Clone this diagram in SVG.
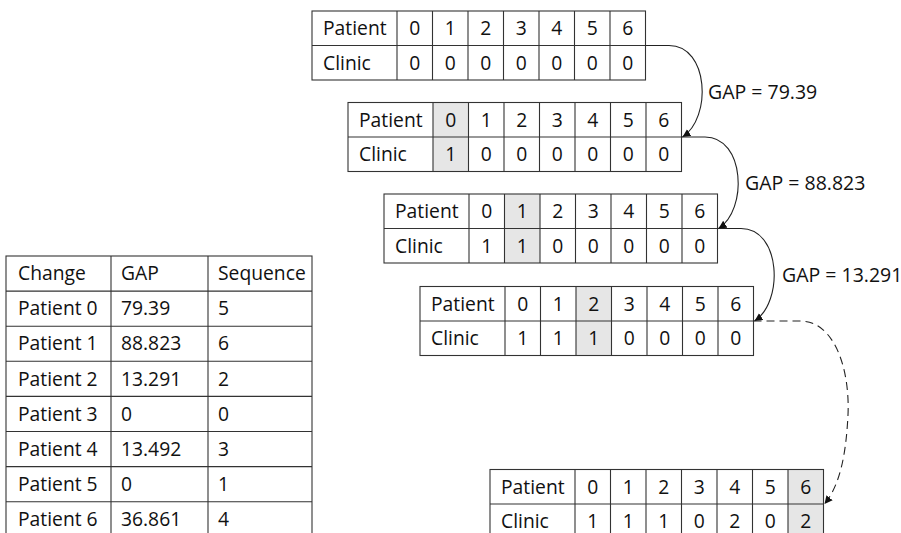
<svg xmlns="http://www.w3.org/2000/svg" xmlns:xlink="http://www.w3.org/1999/xlink" width="901" height="533" viewBox="0 0 901 533">
  <style>
    text { font-family: "Open Sans", "Liberation Sans", sans-serif; fill: #111; }
    .cell { font-size: 19.3px; }
    .num { font-size: 19.3px; text-anchor: middle; }
    .lbl { font-size: 19.5px; }
    .grid { fill: none; stroke: #333; stroke-width: 1.1; }
    .hl { fill: #e6e6e6; }
    .conn { fill: none; stroke: #222; stroke-width: 1.1; marker-end: url(#arrow); }
    .dash { stroke-dasharray: 8 5; }
  </style>
  <defs>
    <marker id="arrow" markerUnits="userSpaceOnUse" markerWidth="10" markerHeight="10" refX="8" refY="4" orient="auto">
      <path d="M0,0 L8,4 L0,8 z" fill="#111"/>
    </marker>
    <!-- 2-row state grid: label column 85, seven cells of 35.5, rows of 34.5 -->
    <g id="stateGrid">
      <rect class="grid" x="0" y="0" width="333.5" height="69"/>
      <path class="grid" d="M0,34.5 H333.5 M85,0 V69 M120.5,0 V69 M156,0 V69 M191.5,0 V69 M227,0 V69 M262.5,0 V69 M298,0 V69"/>
    </g>
    <g id="headRow">
      <text class="cell" x="11" y="24.2">Patient</text>
      <text class="cell" x="11" y="58.7">Clinic</text>
      <text class="num" x="102.75" y="24.2">0</text>
      <text class="num" x="138.25" y="24.2">1</text>
      <text class="num" x="173.75" y="24.2">2</text>
      <text class="num" x="209.25" y="24.2">3</text>
      <text class="num" x="244.75" y="24.2">4</text>
      <text class="num" x="280.25" y="24.2">5</text>
      <text class="num" x="315.75" y="24.2">6</text>
    </g>
  </defs>

  <!-- state 0: no changes -->
  <g id="state0" transform="translate(312,11)">
    <use xlink:href="#stateGrid"/>
    <use xlink:href="#headRow"/>
    <text class="num" x="102.75" y="58.7">0</text>
    <text class="num" x="138.25" y="58.7">0</text>
    <text class="num" x="173.75" y="58.7">0</text>
    <text class="num" x="209.25" y="58.7">0</text>
    <text class="num" x="244.75" y="58.7">0</text>
    <text class="num" x="280.25" y="58.7">0</text>
    <text class="num" x="315.75" y="58.7">0</text>
  </g>

  <!-- state 1: patient 0 changed -->
  <g id="state1" transform="translate(348,102.5)">
    <rect class="hl" x="85" y="0" width="35.5" height="69"/>
    <use xlink:href="#stateGrid"/>
    <use xlink:href="#headRow"/>
    <text class="num" x="102.75" y="58.7">1</text>
    <text class="num" x="138.25" y="58.7">0</text>
    <text class="num" x="173.75" y="58.7">0</text>
    <text class="num" x="209.25" y="58.7">0</text>
    <text class="num" x="244.75" y="58.7">0</text>
    <text class="num" x="280.25" y="58.7">0</text>
    <text class="num" x="315.75" y="58.7">0</text>
  </g>

  <!-- state 2: patient 1 changed -->
  <g id="state2" transform="translate(384,194)">
    <rect class="hl" x="120.5" y="0" width="35.5" height="69"/>
    <use xlink:href="#stateGrid"/>
    <use xlink:href="#headRow"/>
    <text class="num" x="102.75" y="58.7">1</text>
    <text class="num" x="138.25" y="58.7">1</text>
    <text class="num" x="173.75" y="58.7">0</text>
    <text class="num" x="209.25" y="58.7">0</text>
    <text class="num" x="244.75" y="58.7">0</text>
    <text class="num" x="280.25" y="58.7">0</text>
    <text class="num" x="315.75" y="58.7">0</text>
  </g>

  <!-- state 3: patient 2 changed -->
  <g id="state3" transform="translate(420,286.5)">
    <rect class="hl" x="156" y="0" width="35.5" height="69"/>
    <use xlink:href="#stateGrid"/>
    <use xlink:href="#headRow"/>
    <text class="num" x="102.75" y="58.7">1</text>
    <text class="num" x="138.25" y="58.7">1</text>
    <text class="num" x="173.75" y="58.7">1</text>
    <text class="num" x="209.25" y="58.7">0</text>
    <text class="num" x="244.75" y="58.7">0</text>
    <text class="num" x="280.25" y="58.7">0</text>
    <text class="num" x="315.75" y="58.7">0</text>
  </g>

  <!-- final state: patient 6 changed -->
  <g id="state6" transform="translate(490,469.5)">
    <rect class="hl" x="298" y="0" width="35.5" height="69"/>
    <use xlink:href="#stateGrid"/>
    <use xlink:href="#headRow"/>
    <text class="num" x="102.75" y="58.7">1</text>
    <text class="num" x="138.25" y="58.7">1</text>
    <text class="num" x="173.75" y="58.7">1</text>
    <text class="num" x="209.25" y="58.7">0</text>
    <text class="num" x="244.75" y="58.7">2</text>
    <text class="num" x="280.25" y="58.7">0</text>
    <text class="num" x="315.75" y="58.7">2</text>
  </g>

  <!-- transitions between states -->
  <g id="connectors">
    <path class="conn" d="M645.5,45.5 L669,45.5 C709,45.5 712,118 682.5,137"/>
    <path class="conn" d="M681.5,137 L705,137 C745,137 748,210 718.5,228.5"/>
    <path class="conn" d="M717.5,228.5 L741,228.5 C781,228.5 784,302 754.5,321"/>
    <path class="conn dash" d="M753.5,321 L800,321 C835,321 850,370 848,415 C846,455 840,485 824.5,504"/>
    <text class="lbl" x="708" y="99">GAP = 79.39</text>
    <text class="lbl" x="745" y="190">GAP = 88.823</text>
    <text class="lbl" x="782" y="282">GAP = 13.291</text>
  </g>

  <!-- summary table of changes -->
  <g id="summary">
    <rect class="grid" x="6" y="256" width="306" height="281"/>
    <path class="grid" d="M111,256 V537 M208,256 V537 M6,291.1 H312 M6,326.2 H312 M6,361.3 H312 M6,396.4 H312 M6,431.5 H312 M6,466.6 H312 M6,501.7 H312"/>
    <text class="cell" x="18" y="280.2">Change</text>
    <text class="cell" x="121" y="280.2">GAP</text>
    <text class="cell" x="218" y="280.2">Sequence</text>
    <text class="cell" x="18" y="315.3">Patient 0</text>
    <text class="cell" x="121" y="315.3">79.39</text>
    <text class="cell" x="218" y="315.3">5</text>
    <text class="cell" x="18" y="350.4">Patient 1</text>
    <text class="cell" x="121" y="350.4">88.823</text>
    <text class="cell" x="218" y="350.4">6</text>
    <text class="cell" x="18" y="385.5">Patient 2</text>
    <text class="cell" x="121" y="385.5">13.291</text>
    <text class="cell" x="218" y="385.5">2</text>
    <text class="cell" x="18" y="420.6">Patient 3</text>
    <text class="cell" x="121" y="420.6">0</text>
    <text class="cell" x="218" y="420.6">0</text>
    <text class="cell" x="18" y="455.7">Patient 4</text>
    <text class="cell" x="121" y="455.7">13.492</text>
    <text class="cell" x="218" y="455.7">3</text>
    <text class="cell" x="18" y="490.8">Patient 5</text>
    <text class="cell" x="121" y="490.8">0</text>
    <text class="cell" x="218" y="490.8">1</text>
    <text class="cell" x="18" y="525.9">Patient 6</text>
    <text class="cell" x="121" y="525.9">36.861</text>
    <text class="cell" x="218" y="525.9">4</text>
  </g>
</svg>
